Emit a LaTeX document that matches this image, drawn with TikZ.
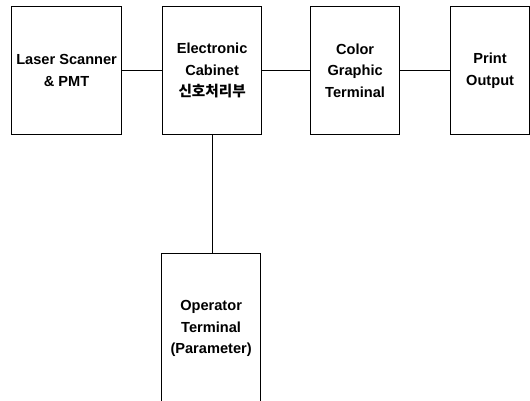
\documentclass[tikz,border=0pt]{standalone}
\usepackage{fontspec}
\setmainfont{Liberation Sans}
\newfontfamily\kofont{Noto Sans CJK KR}
\begin{document}
\begin{tikzpicture}[x=1pt,y=-1pt,
  blk/.style={draw,line width=1.2pt,anchor=north west,inner sep=0pt,align=center,
    font=\fontsize{14.6}{21.8}\selectfont\bfseries},
  conn/.style={line width=1.2pt}]
\useasboundingbox (0,0) rectangle (530,401);
\node[blk,minimum width=110pt,minimum height=128pt] (ls) at (11,6) {Laser Scanner\\\& PMT};
\node[blk,minimum width=99pt,minimum height=128pt] (ec) at (162,6) {Electronic\\Cabinet\\{\kofont\bfseries 신호처리부}};
\node[blk,minimum width=89pt,minimum height=128pt] (cg) at (310,6) {Color\\Graphic\\Terminal};
\node[blk,minimum width=79pt,minimum height=128pt] (po) at (450,6) {Print\\Output};
\node[blk,minimum width=99pt,minimum height=150pt] (op) at (161,253) {Operator\\Terminal\\(Parameter)};
\draw[conn] (ls.east) -- (ec.west);
\draw[conn] (ec.east) -- (cg.west);
\draw[conn] (cg.east) -- (po.west);
\draw[conn] (ec.south) -- (ec.south |- op.north);
\end{tikzpicture}
\end{document}
